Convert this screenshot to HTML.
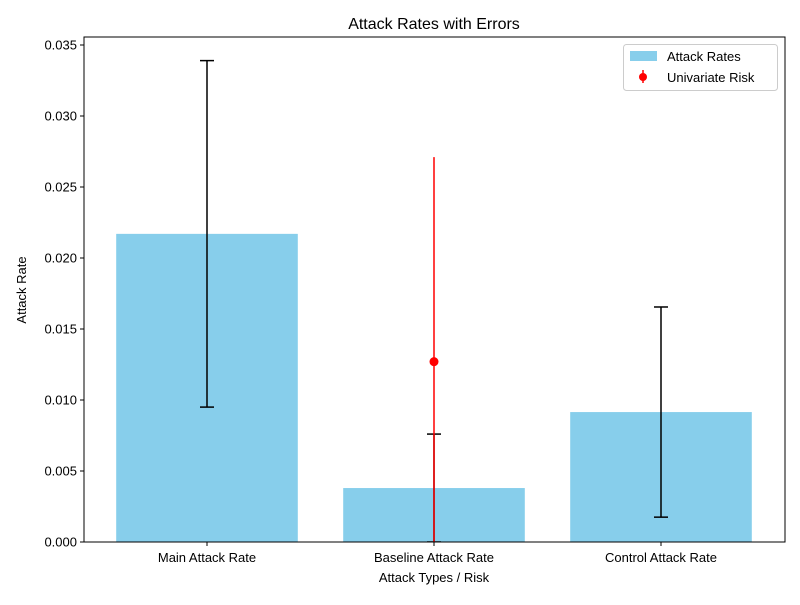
<!DOCTYPE html>
<html><head><meta charset="utf-8"><style>
body{margin:0;background:#fff;}
svg text{font-family:"Liberation Sans","DejaVu Sans",sans-serif;}
</style></head><body>
<svg id="chart" width="800" height="600" xmlns="http://www.w3.org/2000/svg">
<defs><clipPath id="plotclip"><rect x="84" y="37" width="701" height="505"/></clipPath></defs>
<text x="434" y="29" text-anchor="middle" font-size="16">Attack Rates with Errors</text>
<g id="bars" clip-path="url(#plotclip)"></g>
<g id="errs" clip-path="url(#plotclip)"></g>
<g id="axes"></g>
<text x="434" y="582" text-anchor="middle" font-size="13">Attack Types / Risk</text>
<text transform="translate(26,290) rotate(-90)" text-anchor="middle" font-size="13">Attack Rate</text>
<g>
<rect x="623.5" y="44.5" width="154" height="46" rx="3" fill="#fff" stroke="#ccc"/>
<rect x="630" y="51" width="27" height="10" fill="#87ceeb"/>
<text x="667" y="61" font-size="13">Attack Rates</text>
<line x1="643" y1="70" x2="643" y2="83" stroke="red" stroke-width="1.5"/>
<circle cx="643" cy="77" r="4" fill="red"/>
<text x="667" y="82" font-size="13">Univariate Risk</text>
</g>
</svg>
<script>
const categories = ["Main Attack Rate","Baseline Attack Rate","Control Attack Rate"];
const attackRates = [0.0217, 0.0038, 0.00915];
const attackErrors = [0.0122, 0.0038, 0.0074];
const riskIndex = [1];
const riskValues = [0.0127];
const riskErrors = [0.0144];
const yTicks = [0, 0.005, 0.010, 0.015, 0.020, 0.025, 0.030, 0.035];
const yTickLabels = ["0.000","0.005","0.010","0.015","0.020","0.025","0.030","0.035"];

const NS="http://www.w3.org/2000/svg";
const L=84,R=785,T=37,B=542, yMax=0.035563;
const y=v=>B-(v/yMax)*(B-T);
const x=i=>207+227*i;
const bw=0.8*227;
function mk(tag,attrs,parent){const e=document.createElementNS(NS,tag);for(const k in attrs)e.setAttribute(k,attrs[k]);parent.appendChild(e);return e;}
const gb=document.getElementById('bars'),ge=document.getElementById('errs'),ga=document.getElementById('axes');
categories.forEach((c,i)=>{
  const r=mk('rect',{x:x(i)-bw/2,y:y(attackRates[i]),width:bw,height:B-y(attackRates[i]),fill:'#87ceeb'},gb);
  
  
  const g=mk('g',{stroke:'#000','stroke-width':1.5},ge);
  
  
  const lo=attackRates[i]-attackErrors[i],hi=attackRates[i]+attackErrors[i];
  mk('line',{x1:x(i),x2:x(i),y1:y(lo),y2:y(hi)},g);
  mk('line',{x1:x(i)-7,x2:x(i)+7,y1:y(lo),y2:y(lo)},g);
  mk('line',{x1:x(i)-7,x2:x(i)+7,y1:y(hi),y2:y(hi)},g);
  const t=mk('text',{x:x(i),y:562,'text-anchor':'middle','font-size':13},ga);
  t.textContent=c;
  
  
  mk('line',{x1:x(i),x2:x(i),y1:B,y2:B+4,stroke:'#000'},ga);
});
riskIndex.forEach((ci,j)=>{
  const g=mk('g',{},ge);
  
  
  mk('line',{x1:x(ci),x2:x(ci),y1:y(riskValues[j]-riskErrors[j]),y2:y(riskValues[j]+riskErrors[j]),stroke:'red','stroke-width':1.5},g);
  mk('circle',{cx:x(ci),cy:y(riskValues[j]),r:4.5,fill:'red'},g);
});
yTicks.forEach((v,k)=>{
  mk('line',{x1:L-4,x2:L,y1:y(v),y2:y(v),stroke:'#000'},ga);
  const t=mk('text',{x:L-7,y:y(v)+4.5,'text-anchor':'end','font-size':13},ga);
  t.textContent=yTickLabels[k];
  
  
});
const fr=mk('rect',{x:L,y:T,width:R-L,height:B-T,fill:'none',stroke:'#000','stroke-width':1},ga);


</script>
</body></html>
